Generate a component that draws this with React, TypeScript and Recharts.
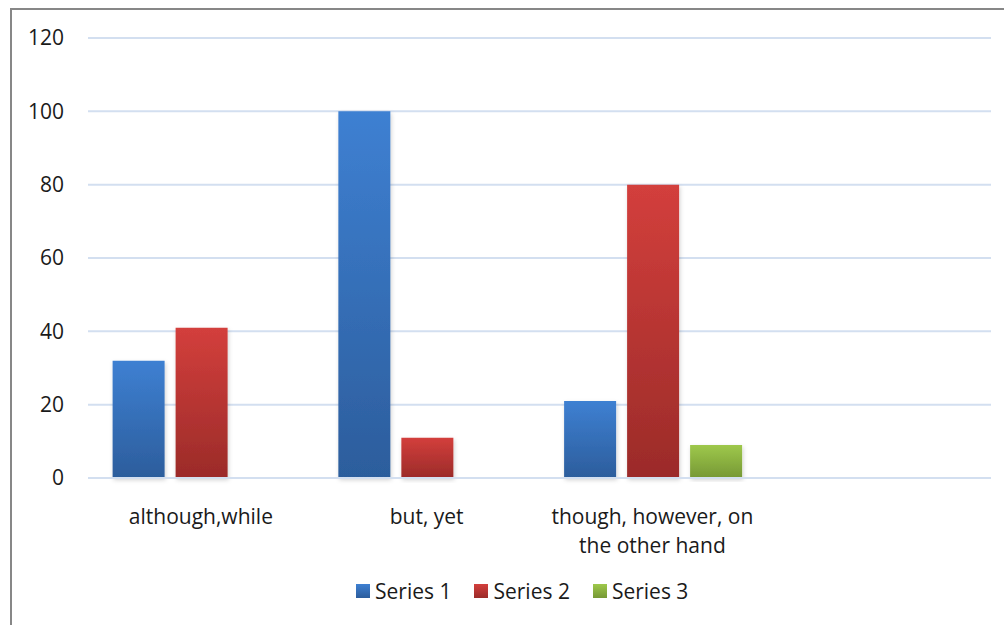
import { Bar, BarChart, CartesianGrid, XAxis, YAxis } from "recharts";

const categories = ["although,while", "but, yet", "though, however, on the other hand", ""];
const series1 = [32, 100, 21, null];
const series2 = [41, 11, 80, null];
const series3 = [null, null, 9, null];
const yTicks = [0, 20, 40, 60, 80, 100, 120];
const seriesNames = ["Series 1", "Series 2", "Series 3"];

// wrapped label lines for the long category
const labelLines: Record<string, string[]> = {
  "though, however, on the other hand": ["though, however, on", "the other hand"],
};

const data = categories.map((name, i) => ({
  name,
  s1: series1[i],
  s2: series2[i],
  s3: series3[i],
}));

const FONT = "'Open Sans', Lato, sans-serif";

const swatches = [
  { id: "gBlue", top: "#3e80d2", bottom: "#2c5d9c" },
  { id: "gRed", top: "#d33f3c", bottom: "#9b2b29" },
  { id: "gGreen", top: "#9ec84b", bottom: "#769835" },
];

function CategoryTick({ x, y, payload }: any) {
  const lines = labelLines[payload.value] ?? [payload.value];
  return (
    <text x={x} y={y} textAnchor="middle" fill="#1a1a1a" fontSize={21} fontFamily={FONT}>
      {lines.map((l, i) => (
        <tspan key={i} x={x} dy={i === 0 ? 38 : 29}>
          {l}
        </tspan>
      ))}
    </text>
  );
}

function Legend() {
  return (
    <div
      style={{
        position: "absolute",
        top: 576,
        left: 356,
        display: "flex",
        gap: 23,
        fontFamily: FONT,
        fontSize: 21,
        lineHeight: "30px",
        color: "#1a1a1a",
      }}
    >
      {seriesNames.map((n, i) => (
        <div key={n} style={{ display: "flex", alignItems: "center", gap: 5 }}>
          <span
            style={{
              width: 14,
              height: 14,
              display: "inline-block",
              background: `linear-gradient(${swatches[i].top}, ${swatches[i].bottom})`,
            }}
          />
          <span>{n}</span>
        </div>
      ))}
    </div>
  );
}

export default function App() {
  return (
    <div style={{ position: "absolute", left: 0, top: 0, width: 1004, height: 625, background: "#fff", overflow: "hidden" }}>
      <div
        style={{
          position: "absolute",
          left: 10,
          top: 8,
          width: 1010,
          height: 640,
          borderLeft: "2px solid #878787",
          borderTop: "2px solid #878787",
        }}
      />
      <div style={{ position: "absolute", left: 0, top: 0 }}>
        <BarChart
          width={1004}
          height={625}
          data={data}
          margin={{ top: 38, right: 13, bottom: 0, left: 0 }}
          barCategoryGap="10.9%"
          barGap={11}
        >
          <defs>
            {swatches.map((s) => (
              <linearGradient key={s.id} id={s.id} x1="0" y1="0" x2="0" y2="1">
                <stop offset="0%" stopColor={s.top} />
                <stop offset="100%" stopColor={s.bottom} />
              </linearGradient>
            ))}
            <filter id="barShadow" x="-20%" y="-5%" width="140%" height="115%">
              <feDropShadow dx="1" dy="2" stdDeviation="2" floodColor="#000" floodOpacity="0.18" />
            </filter>
          </defs>
          <CartesianGrid vertical={false} stroke="#d3dff0" strokeWidth={2} />
          <XAxis
            dataKey="name"
            axisLine={{ stroke: "#d3dff0", strokeWidth: 2 }}
            tickLine={false}
            tick={<CategoryTick />}
            interval={0}
            height={147}
          />
          <YAxis
            domain={[0, 120]}
            ticks={yTicks}
            axisLine={false}
            tickLine={false}
            tickSize={0}
            tickMargin={24}
            width={88}
            tick={{ fontSize: 21, fill: "#1a1a1a", fontFamily: FONT }}
          />
          <Bar dataKey="s1" name="Series 1" fill="url(#gBlue)" filter="url(#barShadow)" isAnimationActive={false} />
          <Bar dataKey="s2" name="Series 2" fill="url(#gRed)" filter="url(#barShadow)" isAnimationActive={false} />
          <Bar dataKey="s3" name="Series 3" fill="url(#gGreen)" filter="url(#barShadow)" isAnimationActive={false} />
        </BarChart>
      </div>
      <Legend />
    </div>
  );
}
